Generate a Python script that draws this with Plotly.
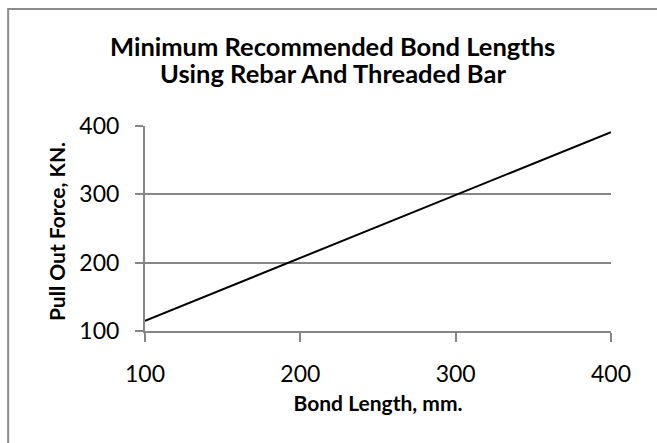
import plotly.graph_objects as go

bond_length_mm = [100, 200, 300, 400]
pull_out_force_kn = [115, 207, 299, 391]
x_ticks = [100, 200, 300, 400]
y_ticks = [100, 200, 300, 400]
title_lines = ["Minimum Recommended Bond Lengths", "Using Rebar And Threaded Bar"]

GRAY = "#868686"
FONT = "Lato"

fig = go.Figure()
fig.add_trace(go.Scatter(
    x=bond_length_mm, y=pull_out_force_kn, mode="lines",
    line=dict(color="black", width=2), showlegend=False, cliponaxis=False,
))

L, R, T, B = 145, 45.5, 126, 112
W, H = 657, 443
pw, ph = W - L - R, H - T - B

def px_to_paper_y(y):
    return (H - B - y) / ph

def px_to_paper_x(x):
    return (x - L) / pw

fig.update_layout(
    width=W, height=H,
    margin=dict(l=L, r=R, t=T, b=B, pad=0),
    paper_bgcolor="white", plot_bgcolor="white",
    font=dict(family=FONT, color="black"),
    xaxis=dict(
        range=[100, 400], tickvals=x_ticks, showgrid=False, zeroline=False,
        showline=True, linecolor=GRAY, linewidth=2,
        ticks="outside", ticklen=9, tickwidth=2, tickcolor=GRAY,
        tickfont=dict(family=FONT, size=23, color="black"),
        ticklabelstandoff=12,
        title=dict(text="<b>Bond Length, mm.</b>", font=dict(family=FONT, size=21, color="black"), standoff=11),
    ),
    yaxis=dict(
        range=[100, 400], tickvals=y_ticks, showgrid=True, gridcolor=GRAY, gridwidth=1.5,
        zeroline=False, showline=True, linecolor=GRAY, linewidth=2,
        ticks="outside", ticklen=8, tickwidth=1.5, tickcolor=GRAY,
        tickfont=dict(family=FONT, size=23, color="black"),
        ticklabelstandoff=11,
    ),
)

fig.add_annotation(
    text="<b>Pull Out Force, KN.</b>", xref="paper", yref="paper", textangle=-90,
    x=px_to_paper_x(56), y=px_to_paper_y(232), xanchor="center", yanchor="middle",
    showarrow=False, font=dict(family=FONT, size=21, color="black"),
)
fig.add_annotation(
    text="<b>" + title_lines[0] + "</b>", xref="paper", yref="paper",
    x=px_to_paper_x(333), y=px_to_paper_y(46), xanchor="center", yanchor="middle",
    showarrow=False, font=dict(family=FONT, size=25.5, color="black"),
)
fig.add_annotation(
    text="<b>" + title_lines[1] + "</b>", xref="paper", yref="paper",
    x=px_to_paper_x(333), y=px_to_paper_y(73), xanchor="center", yanchor="middle",
    showarrow=False, font=dict(family=FONT, size=25.5, color="black"),
)

fig.add_shape(
    type="rect", xref="paper", yref="paper",
    x0=px_to_paper_x(8), x1=px_to_paper_x(W + 20),
    y0=px_to_paper_y(H + 20), y1=px_to_paper_y(9),
    line=dict(color="#8c8c8c", width=2), fillcolor="rgba(0,0,0,0)", layer="below",
)

fig.write_html(
    "out.html",
    config={"displayModeBar": False},
    post_script="document.body.style.margin='0';document.body.style.padding='0';",
)
